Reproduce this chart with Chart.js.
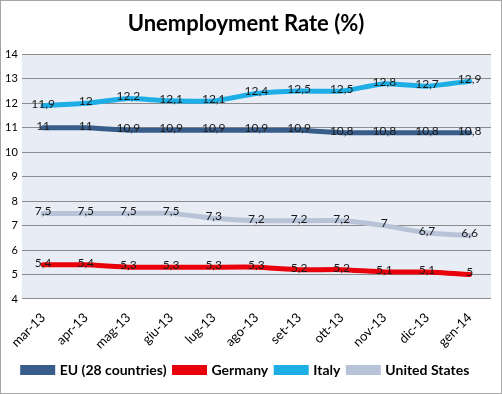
<!DOCTYPE html>
<html>
<head>
<meta charset="utf-8">
<script src="https://cdn.jsdelivr.net/npm/chart.js@4"></script>
<style>
  html, body { margin: 0; padding: 0; background: #fff; }
  #wrap { position: relative; width: 500px; height: 392px; border: 1px solid #a6a6a6; }
</style>
</head>
<body>
<div id="wrap"><canvas id="chart"></canvas></div>
<script>
const months = ["mar-13", "apr-13", "mag-13", "giu-13", "lug-13", "ago-13", "set-13", "ott-13", "nov-13", "dic-13", "gen-14"];
const eu = [11, 11, 10.9, 10.9, 10.9, 10.9, 10.9, 10.8, 10.8, 10.8, 10.8];
const germany = [5.4, 5.4, 5.3, 5.3, 5.3, 5.3, 5.2, 5.2, 5.1, 5.1, 5];
const italy = [11.9, 12, 12.2, 12.1, 12.1, 12.4, 12.5, 12.5, 12.8, 12.7, 12.9];
const usa = [7.5, 7.5, 7.5, 7.5, 7.3, 7.2, 7.2, 7.2, 7, 6.7, 6.6];

const font = "Lato, 'Open Sans', sans-serif";

const series = (label, data, color) => ({
    label,
    data,
    borderColor: color,
    backgroundColor: color,
    borderWidth: 5,
    pointRadius: 0,
    tension: 0.15,
    borderCapStyle: "round"
});

// plot area background
const plotBg = {
    id: "plotBg",
    beforeDraw(chart) {
        const { ctx, chartArea: a } = chart;
        ctx.save();
        ctx.fillStyle = "#e8ecf4";
        ctx.fillRect(a.left, a.top, a.right - a.left, a.bottom - a.top);
        ctx.restore();
    }
};

// value labels sitting on each point, comma decimals
const valueLabels = {
    id: "valueLabels",
    afterDatasetsDraw(chart) {
        const { ctx } = chart;
        ctx.save();
        ctx.font = "12px " + font;
        ctx.fillStyle = "#1a1a1a";
        ctx.textAlign = "center";
        ctx.textBaseline = "middle";
        chart.data.datasets.forEach((ds, i) => {
            chart.getDatasetMeta(i).data.forEach((pt, j) => {
                ctx.fillText(String(ds.data[j]).replace(".", ","), pt.x, pt.y - 2);
            });
        });
        ctx.restore();
    }
};

new Chart(document.getElementById("chart"), {
    type: "line",
    data: {
        labels: months,
        datasets: [
            series("EU (28 countries)", eu, "#385d8a"),
            series("Germany", germany, "#e8000b"),
            series("Italy", italy, "#1eaee6"),
            series("United States", usa, "#b9c3d8")
        ]
    },
    options: {
        responsive: true,
        maintainAspectRatio: false,
        animation: false,
        layout: { padding: { left: 0, right: 10, top: 4, bottom: 6 } },
        plugins: {
            title: {
                display: true,
                text: "Unemployment Rate (%)",
                color: "#000",
                font: { family: font, size: 22, weight: "bold" },
                padding: { top: 6, bottom: 17 }
            },
            legend: {
                position: "bottom",
                labels: {
                    color: "#000",
                    font: { family: font, size: 14, weight: "bold" },
                    boxWidth: 30,
                    boxHeight: 5,
                    padding: 8
                }
            },
            tooltip: { enabled: false }
        },
        scales: {
            x: {
                offset: true,
                grid: { display: false },
                border: { display: false },
                ticks: {
                    color: "#000",
                    font: { family: font, size: 13 },
                    maxRotation: 45,
                    minRotation: 45
                }
            },
            y: {
                min: 4,
                max: 14,
                grid: { color: "#8c8c8c", drawTicks: false },
                border: { display: false },
                ticks: {
                    stepSize: 1,
                    padding: 4,
                    color: "#000",
                    font: { family: font, size: 11 }
                }
            }
        }
    },
    plugins: [plotBg, valueLabels]
});
</script>
</body>
</html>
